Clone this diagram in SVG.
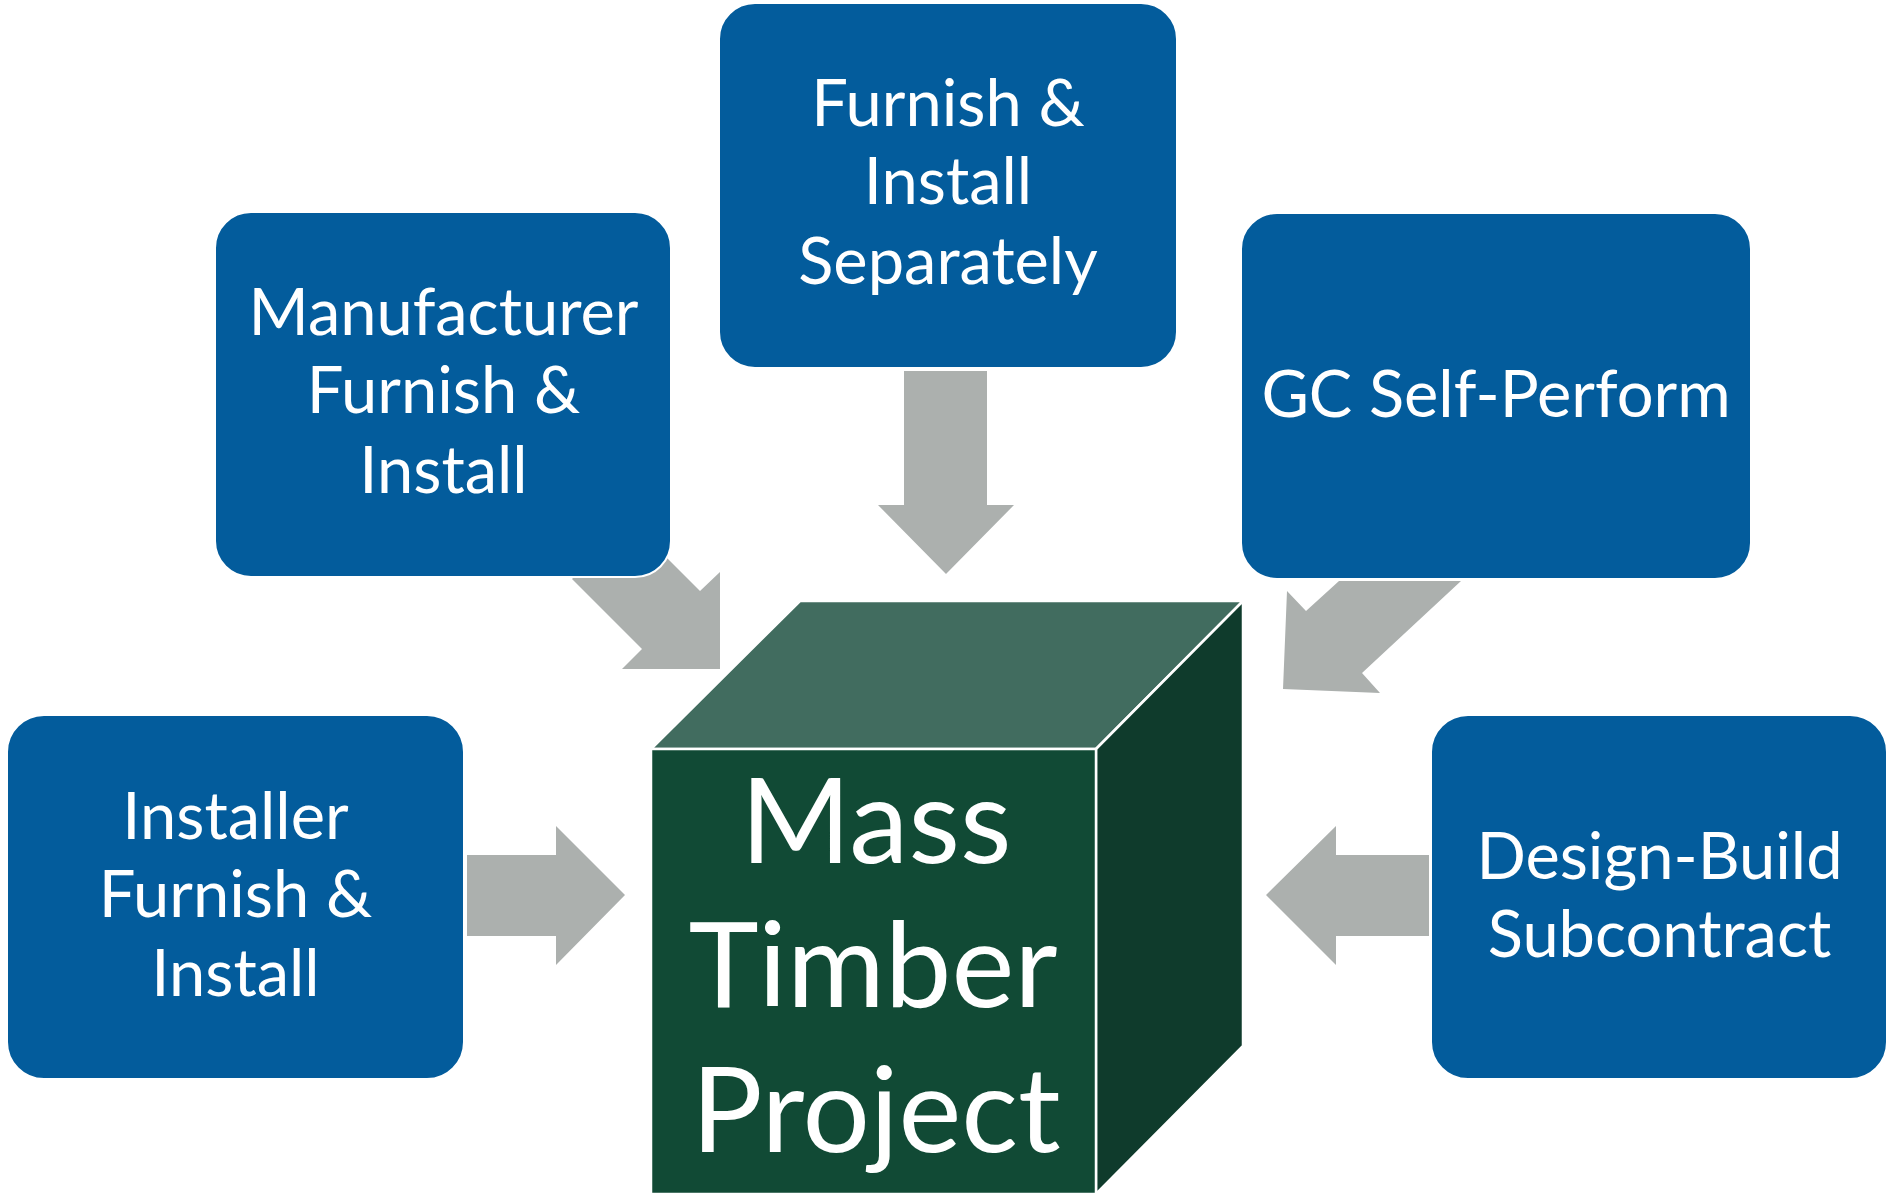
<svg xmlns="http://www.w3.org/2000/svg" width="1891" height="1196" viewBox="0 0 1891 1196">
<style>
.box{fill:#035C9C;stroke:#ffffff;stroke-width:2}
.arr{fill:#ACB0AE;stroke:none}
.lbl{font-family:Lato,"Open Sans","Liberation Sans",sans-serif;font-size:65px;fill:#ffffff;text-anchor:middle}
.big{font-family:Lato,"Open Sans","Liberation Sans",sans-serif;font-size:119px;fill:#ffffff;text-anchor:middle}
.face{stroke:#ffffff;stroke-width:2.5;stroke-linejoin:miter}
</style>
<rect width="1891" height="1196" fill="#ffffff"/>
<g id="connectors">
<polygon class="arr" points="904,371 987,371 987,505 1014,505 946,574 878,505 904,505"/>
<polygon class="arr" points="467,855 556,855 556,826 625,895 556,965 556,936 467,936"/>
<polygon class="arr" points="1429,855 1336,855 1336,826 1266,895 1336,965 1336,936 1429,936"/>
<polygon class="arr" points="572,579 630,521 700,591 720,572 720,669 622,669 642,649"/>
<polygon class="arr" points="1339,581 1461,581 1362,673 1380,693 1283,689 1287,591 1306,611"/>
</g>
<g id="node-manufacturer">
<rect class="box" x="215" y="212" width="456" height="365" rx="36" ry="36"/>
<text class="lbl" x="443.5" y="335">Manufacturer</text>
<text class="lbl" x="443.5" y="413">Furnish &amp;</text>
<text class="lbl" x="443.5" y="493">Install</text>
</g>
<g id="node-separately">
<rect class="box" x="719" y="3" width="458" height="365" rx="36" ry="36"/>
<text class="lbl" x="948" y="126">Furnish &amp;</text>
<text class="lbl" x="948" y="204">Install</text>
<text class="lbl" x="948" y="284">Separately</text>
</g>
<g id="node-gc">
<rect class="box" x="1241" y="213" width="510" height="366" rx="36" ry="36"/>
<text class="lbl" x="1496" y="417">GC Self-Perform</text>
</g>
<g id="node-installer">
<rect class="box" x="7" y="715" width="457" height="364" rx="37" ry="37"/>
<text class="lbl" x="235.5" y="839">Installer</text>
<text class="lbl" x="235.5" y="917">Furnish &amp;</text>
<text class="lbl" x="235.5" y="996">Install</text>
</g>
<g id="node-designbuild">
<rect class="box" x="1431" y="715" width="456" height="364" rx="37" ry="37"/>
<text class="lbl" x="1659.5" y="879">Design-Build</text>
<text class="lbl" x="1659.5" y="957">Subcontract</text>
</g>
<g id="node-mass-timber">
<polygon class="face" fill="#416C5F" points="800,601 1243,601 1096,749 651,749"/>
<polygon class="face" fill="#0F3B2C" points="1096,749 1243,601 1243,1046 1096,1194"/>
<rect class="face" fill="#114A35" x="651" y="749" width="445" height="445"/>
<text class="big" x="876" y="863">Mass</text>
<text class="big" x="873" y="1007">Timber</text>
<text class="big" x="876" y="1152">Project</text>
</g>
</svg>
